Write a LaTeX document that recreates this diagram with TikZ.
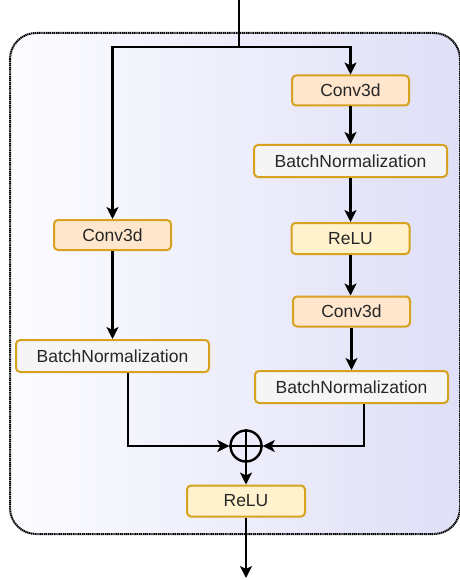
\documentclass[tikz,border=0pt]{standalone}
\usepackage{fontspec}
\setmainfont{Liberation Sans}
\usetikzlibrary{arrows.meta}
\definecolor{convfill}{HTML}{FFE6CC}
\definecolor{relufill}{HTML}{FFF2CC}
\definecolor{bnfill}{HTML}{F5F5F5}
\definecolor{boxline}{HTML}{D6A21F}
\definecolor{panelL}{HTML}{FCFCFF}
\definecolor{panelR}{HTML}{DFDFF7}
\begin{document}
\begin{tikzpicture}[x=1pt,y=-1pt,
  layer/.style={draw=boxline,line width=2pt,rounded corners=4pt,inner sep=0pt,
    font=\fontsize{17.5}{20}\selectfont,text=black!85},
  conv/.style={layer,fill=convfill,minimum width=117pt,minimum height=30pt},
  relu/.style={layer,fill=relufill,minimum width=118pt,minimum height=31pt},
  bn/.style={layer,fill=bnfill,minimum width=193pt,minimum height=32pt},
  flow/.style={line width=2.2pt,-{Stealth[length=12pt,width=12pt,inset=3pt]}},
  wire/.style={line width=2.2pt}]
\useasboundingbox (0,0) rectangle (459,580);
\fill[white] (0,0) rectangle (459,580);
% residual block panel
\shade[left color=panelL,right color=panelR,rounded corners=26pt]
  (10,33) rectangle (460,534);
\draw[line width=2pt,dash pattern=on 1.3pt off 0.6pt,rounded corners=26pt]
  (10,33) rectangle (460,534);
% layers
\node[conv] (rc1) at (350.5,90.5) {Conv3d};
\node[bn]   (rb1) at (350.5,161) {BatchNormalization};
\node[relu] (rr)  at (350.5,238.5) {ReLU};
\node[conv] (rc2) at (351.5,311.5) {Conv3d};
\node[bn]   (rb2) at (351.5,387) {BatchNormalization};
\node[conv] (lc)  at (112.5,235) {Conv3d};
\node[bn]   (lb)  at (112.5,356) {BatchNormalization};
\node[circle,draw,line width=2.4pt,minimum size=31pt,inner sep=0pt] (add) at (246,446) {};
\draw[line width=2.2pt] (add.north) -- (add.south) (add.west) -- (add.east);
\node[relu] (out) at (246,501) {ReLU};
% connectors
\coordinate (in) at (239,0);
\coordinate (split) at (239,47);
\coordinate (end) at (246,578);
\draw[wire] (in) -- (split);
\draw[flow] (split) -| (rc1.north);
\draw[flow] (split) -| (lc.north);
\draw[flow] (rc1) -- (rb1);
\draw[flow] (rb1) -- (rr);
\draw[flow] (rr) -- (rc2.north -| rr);
\draw[flow] (rc2) -- (rb2);
\draw[flow] (lc) -- (lb);
\draw[flow] (lb.south -| 128,0) |- (add.west);
\draw[flow] (rb2.south -| 364,0) |- (add.east);
\draw[flow] (add) -- (out);
\draw[flow] (out) -- (end);
\end{tikzpicture}
\end{document}
